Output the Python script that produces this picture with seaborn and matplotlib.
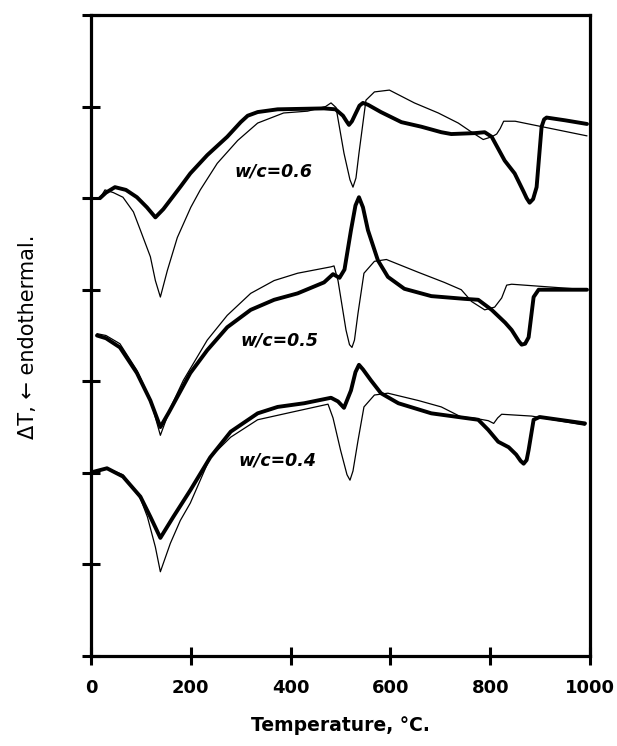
import matplotlib
matplotlib.use("Agg")
import matplotlib.pyplot as plt
import seaborn as sns
import numpy as np

# ---- data (temperature in degC, DTA signal in arbitrary stacked units) ----
t_06_thick = [18, 30, 48, 70, 92, 112, 129, 145, 159, 180, 199, 233, 273, 300, 314, 334, 374, 467, 490, 505, 512, 517, 523, 530, 538, 545, 555, 581, 622, 662, 702, 722, 769, 789, 803, 829, 849, 867, 873, 879, 886, 893, 898, 903, 908, 913, 950, 994]
v_06_thick = [5.00, 5.06, 5.12, 5.09, 5.01, 4.90, 4.79, 4.88, 4.98, 5.13, 5.27, 5.47, 5.67, 5.83, 5.90, 5.94, 5.97, 5.98, 5.97, 5.90, 5.84, 5.80, 5.84, 5.92, 6.01, 6.04, 6.02, 5.94, 5.83, 5.78, 5.72, 5.70, 5.71, 5.72, 5.67, 5.41, 5.27, 5.07, 5.00, 4.95, 4.99, 5.12, 5.45, 5.78, 5.86, 5.88, 5.85, 5.81]

t_06_thin = [18, 28, 45, 64, 85, 99, 119, 129, 139, 153, 173, 200, 219, 253, 294, 334, 386, 434, 470, 481, 491, 507, 519, 525, 531, 537, 551, 568, 598, 648, 696, 736, 763, 786, 803, 813, 820, 827, 850, 994]
v_06_thin = [5.00, 5.09, 5.06, 5.01, 4.85, 4.65, 4.36, 4.10, 3.92, 4.21, 4.57, 4.90, 5.09, 5.38, 5.63, 5.82, 5.93, 5.95, 6.00, 6.04, 5.99, 5.49, 5.20, 5.12, 5.22, 5.49, 6.07, 6.16, 6.18, 6.04, 5.93, 5.82, 5.72, 5.64, 5.67, 5.70, 5.76, 5.84, 5.84, 5.68]

t_05_thick = [12, 30, 58, 92, 119, 139, 156, 173, 199, 233, 273, 320, 367, 414, 467, 485, 498, 508, 521, 530, 537, 545, 555, 575, 595, 628, 682, 749, 776, 803, 830, 843, 857, 863, 870, 877, 887, 897, 994]
v_05_thick = [3.50, 3.47, 3.37, 3.09, 2.79, 2.50, 2.66, 2.83, 3.09, 3.34, 3.59, 3.78, 3.89, 3.96, 4.08, 4.17, 4.13, 4.22, 4.65, 4.92, 5.01, 4.90, 4.65, 4.32, 4.14, 4.01, 3.93, 3.90, 3.89, 3.78, 3.64, 3.56, 3.44, 3.40, 3.41, 3.48, 3.92, 4.00, 4.00]

t_05_thin = [12, 30, 58, 92, 119, 139, 160, 185, 233, 273, 320, 367, 414, 481, 487, 495, 511, 518, 523, 528, 535, 547, 568, 592, 656, 708, 742, 763, 789, 809, 823, 833, 843, 994]
v_05_thin = [3.52, 3.50, 3.41, 3.12, 2.80, 2.41, 2.72, 3.01, 3.45, 3.72, 3.96, 4.10, 4.18, 4.25, 4.26, 4.10, 3.56, 3.40, 3.37, 3.45, 3.74, 4.18, 4.31, 4.33, 4.19, 4.08, 4.00, 3.87, 3.78, 3.81, 3.91, 4.05, 4.06, 4.00]

t_04_thick = [4, 32, 64, 99, 119, 139, 165, 199, 239, 280, 334, 374, 427, 481, 495, 507, 521, 530, 537, 545, 561, 581, 616, 682, 749, 776, 796, 816, 837, 852, 861, 867, 873, 877, 887, 899, 990]
v_04_thick = [2.01, 2.05, 1.96, 1.74, 1.52, 1.29, 1.52, 1.81, 2.17, 2.45, 2.65, 2.72, 2.76, 2.82, 2.78, 2.71, 2.90, 3.10, 3.18, 3.13, 3.01, 2.87, 2.76, 2.65, 2.60, 2.58, 2.47, 2.34, 2.28, 2.20, 2.13, 2.10, 2.14, 2.25, 2.58, 2.61, 2.54]

t_04_thin = [4, 32, 64, 99, 113, 129, 139, 159, 179, 199, 239, 280, 334, 400, 475, 485, 500, 513, 519, 525, 535, 547, 568, 595, 656, 702, 742, 765, 796, 807, 815, 823, 883, 990]
v_04_thin = [2.01, 2.05, 1.98, 1.72, 1.52, 1.19, 0.92, 1.23, 1.48, 1.67, 2.17, 2.39, 2.58, 2.66, 2.75, 2.60, 2.25, 1.98, 1.92, 2.02, 2.35, 2.72, 2.85, 2.87, 2.79, 2.72, 2.61, 2.60, 2.57, 2.54, 2.60, 2.64, 2.62, 2.52]

labels = ["w/c=0.6", "w/c=0.5", "w/c=0.4"]
label_t = [366, 378, 374]
label_v = [5.29, 3.45, 2.14]

x_ticks = [0, 200, 400, 600, 800, 1000]
y_ticks = [0, 1, 2, 3, 4, 5, 6, 7]

# ---- style ----
sns.set_style("white")
plt.rcParams['font.family'] = ['DejaVu Sans']
plt.rcParams['lines.solid_joinstyle'] = 'round'
plt.rcParams['lines.solid_capstyle'] = 'round'

fig = plt.figure(figsize=(6.17, 7.46), dpi=100)
ax = fig.add_axes([91 / 617, 1 - 656 / 746, (590 - 91) / 617, (656 - 15) / 746])

series = [
    (t_06_thick, v_06_thick, 2.8), (t_06_thin, v_06_thin, 0.9),
    (t_05_thick, v_05_thick, 2.8), (t_05_thin, v_05_thin, 0.9),
    (t_04_thick, v_04_thick, 2.8), (t_04_thin, v_04_thin, 0.9),
]
for tt, vv, lw in series:
    sns.lineplot(x=tt, y=vv, ax=ax, color="black", linewidth=lw,
                 sort=False, estimator=None, legend=False)

for lab, tx, vy in zip(labels, label_t, label_v):
    ax.text(tx, vy, lab, ha="center", va="center", fontsize=12.5,
            fontweight="bold", fontstyle="italic", color="black")

ax.set_xlim(0, 1000)
ax.set_ylim(0, 7)
ax.set_xticks(x_ticks)
ax.set_xticklabels([str(v) for v in x_ticks], fontsize=13, fontweight="bold",
                   color="black")
ax.set_yticks(y_ticks)
ax.set_yticklabels([])
ax.tick_params(axis="x", direction="inout", length=13, width=2.2, pad=10,
               bottom=True, top=False, colors="black")
ax.tick_params(axis="y", direction="inout", length=13, width=2.2,
               left=True, right=False, colors="black")
for sp in ax.spines.values():
    sp.set_linewidth(2.3)
    sp.set_color("black")

ax.set_xlabel("Temperature, °C.", fontsize=13.5, fontweight="bold",
              labelpad=14, color="black")
ax.set_ylabel("")
fig.text(28 / 617, 1 - 337 / 746, "ΔT, \u2190 endothermal.", rotation=90,
         ha="center", va="center", fontsize=15, color="black")

fig.savefig("out.png", dpi=100)
